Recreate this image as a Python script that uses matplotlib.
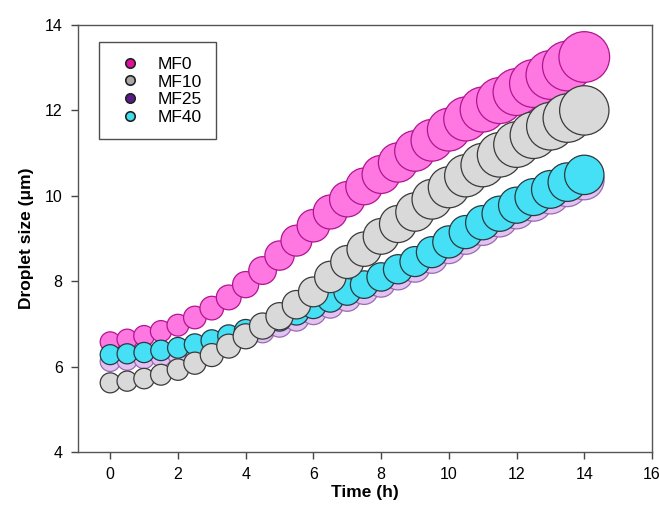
import numpy as np
import matplotlib
matplotlib.use("Agg")
import matplotlib.pyplot as plt
from matplotlib.lines import Line2D

plt.rcParams["font.family"] = ["Liberation Sans", "DejaVu Sans"]

# data, time in hours, droplet size in um
time_h = [0, 0.5, 1, 1.5, 2, 2.5, 3, 3.5, 4, 4.5, 5, 5.5, 6, 6.5, 7,
          7.5, 8, 8.5, 9, 9.5, 10, 10.5, 11, 11.5, 12, 12.5, 13, 13.5, 14]
mf0 = [6.58, 6.64, 6.72, 6.83, 6.97, 7.15, 7.37, 7.62, 7.92, 8.25, 8.6, 8.95,
       9.3, 9.62, 9.92, 10.22, 10.5, 10.78, 11.05, 11.3, 11.55, 11.8, 12.02,
       12.23, 12.43, 12.63, 12.83, 13.04, 13.25]
mf10 = [5.62, 5.66, 5.72, 5.81, 5.93, 6.08, 6.27, 6.48, 6.71, 6.95, 7.18, 7.45,
        7.75, 8.1, 8.45, 8.75, 9.05, 9.34, 9.62, 9.92, 10.2, 10.47, 10.72, 10.96,
        11.2, 11.42, 11.63, 11.82, 12.0]
mf25 = [6.12, 6.15, 6.19, 6.24, 6.3, 6.38, 6.47, 6.58, 6.7, 6.83, 6.97, 7.12,
        7.28, 7.44, 7.61, 7.78, 7.96, 8.14, 8.33, 8.55, 8.79, 9.02, 9.24, 9.45,
        9.65, 9.84, 10.02, 10.2, 10.37]
mf40 = [6.28, 6.3, 6.33, 6.38, 6.44, 6.52, 6.61, 6.72, 6.84, 6.97, 7.11, 7.26,
        7.42, 7.58, 7.75, 7.92, 8.1, 8.28, 8.46, 8.68, 8.92, 9.15, 9.37, 9.58,
        9.78, 9.97, 10.15, 10.32, 10.49]
labels = ["MF0", "MF10", "MF25", "MF40"]


def bubble_size(vals):
    v = np.array(vals)
    d = 20 + 4.6 * (v - v[0])  # diameter in px, grows with size
    return (d * 0.72) ** 2


fig = plt.figure(figsize=(6.59, 5.08), dpi=100)
ax = fig.add_axes([0.1184, 0.1102, 0.871, 0.8406])

series = [
    (mf0, "#ff78e2", "#b01590", 1),
    (mf25, "#e2c2f2", "#9a6ab0", 2),
    (mf40, "#45e0f5", "#2a3a40", 3),
    (mf10, "#d9d9d9", "#3a3a3a", 4),
]
for vals, fc, ec, z in series:
    ax.scatter(time_h, vals, s=bubble_size(vals), c=fc, edgecolors=ec,
               linewidths=0.9, zorder=z)

ax.set_xlim(-0.95, 16)
ax.set_ylim(4, 14)
ax.set_xticks(range(0, 17, 2))
ax.set_yticks(range(4, 15, 2))
ax.tick_params(direction="out", length=5, width=1, color="#444444",
               labelsize=11.5, pad=6)
for sp in ax.spines.values():
    sp.set_color("#555555")
    sp.set_linewidth(1)

ax.set_xlabel("Time (h)", fontsize=12.5, fontweight="bold", labelpad=2)
ax.set_ylabel("Droplet size (\u03bcm)", fontsize=12.5, fontweight="bold",
              labelpad=8)

handle_colors = ["#e0109e", "#a8a8a8", "#5a1a8c", "#40dcf0"]
handles = [Line2D([], [], ls="", marker="o", ms=6.8, mfc=c, mec="#222222",
                  mew=1.2) for c in handle_colors]
leg = ax.legend(handles, labels, loc="upper left",
                bbox_to_anchor=(0.0366, 0.96), fontsize=12.5, frameon=True,
                fancybox=False, edgecolor="#222222", borderpad=0.85,
                handlelength=1.9, handletextpad=0.6, labelspacing=0.14,
                borderaxespad=0)
leg.get_frame().set_linewidth(1)

fig.savefig("out.png", dpi=100)
